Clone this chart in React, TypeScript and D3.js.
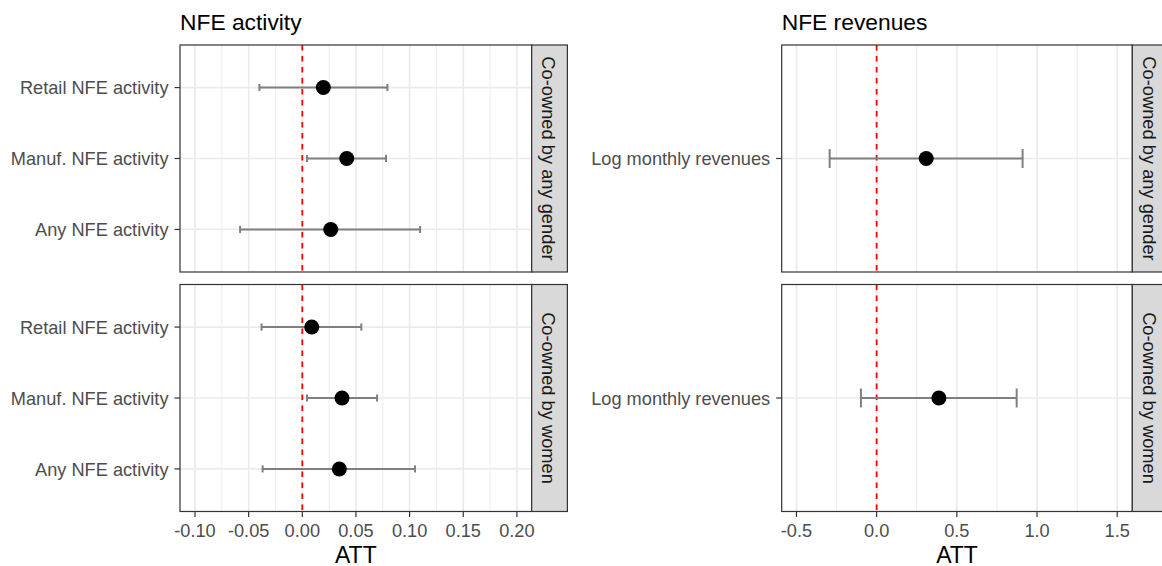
import React from "react";
import * as d3 from "d3";

// ---- Data ----
const groups = ["Co-owned by any gender", "Co-owned by women"];
// activity outcomes, listed top to bottom
const activityOutcomes = ["Retail NFE activity", "Manuf. NFE activity", "Any NFE activity"];
const activityAnyGenderEst = [0.0196, 0.0414, 0.0265];
const activityAnyGenderLo = [-0.040, 0.0044, -0.058];
const activityAnyGenderHi = [0.0793, 0.078, 0.1098];
const activityWomenEst = [0.0088, 0.037, 0.0345];
const activityWomenLo = [-0.038, 0.0044, -0.037];
const activityWomenHi = [0.055, 0.0697, 0.105];

const revenueOutcomes = ["Log monthly revenues"];
const revenueAnyGenderEst = [0.309];
const revenueAnyGenderLo = [-0.293];
const revenueAnyGenderHi = [0.910];
const revenueWomenEst = [0.388];
const revenueWomenLo = [-0.098];
const revenueWomenHi = [0.873];

const activityTicks = [-0.1, -0.05, 0, 0.05, 0.1, 0.15, 0.2];
const activityMinor = [-0.075, -0.025, 0.025, 0.075, 0.125, 0.175];
const revenueTicks = [-0.5, 0, 0.5, 1, 1.5];
const revenueMinor = [-0.25, 0.25, 0.75, 1.25];

const titles = ["NFE activity", "NFE revenues"];
const xTitle = "ATT";

// ---- Layout ----
const FONT = "'Liberation Sans', Arial, Helvetica, sans-serif";
const panelRows = [
  [45, 272],
  [284.5, 511.5],
];
const STRIP_W = 35.7;
const TICK_FS = 18.2;

type Row = { est: number[]; lo: number[]; hi: number[] };

function Column({
  x0, x1, domain, ticks, minor, fmt, outcomes, rows, title,
}: {
  x0: number; x1: number; domain: [number, number]; ticks: number[]; minor: number[];
  fmt: (v: number) => string; outcomes: string[]; rows: Row[]; title: string;
}) {
  const x = d3.scaleLinear().domain(domain).range([x0, x1]);
  const bottom = panelRows[1][1];
  return (
    <g>
      <text x={x0} y={29.5} fontSize={22.8} fill="#000" fontFamily={FONT}>{title}</text>
      {panelRows.map(([top, bot], pi) => {
        const y = d3.scalePoint<string>().domain(outcomes).range([top, bot]).padding(0.6);
        const capH = y.step() * 0.1;
        const r = rows[pi];
        return (
          <g key={pi}>
            <rect x={x0} y={top} width={x1 - x0} height={bot - top} fill="#fff" />
            {minor.map((v) => (
              <line key={"m" + v} x1={x(v)} x2={x(v)} y1={top} y2={bot} stroke="#EBEBEB" strokeWidth={0.9} />
            ))}
            {ticks.map((v) => (
              <line key={"M" + v} x1={x(v)} x2={x(v)} y1={top} y2={bot} stroke="#EBEBEB" strokeWidth={1.7} />
            ))}
            {outcomes.map((o) => (
              <line key={"y" + o} x1={x0} x2={x1} y1={y(o)!} y2={y(o)!} stroke="#EBEBEB" strokeWidth={1.7} />
            ))}
            <line x1={x(0)} x2={x(0)} y1={top} y2={bot} stroke="#FF0000" strokeWidth={1.8} strokeDasharray="5.5 5.5" />
            {outcomes.map((o, i) => {
              const yy = y(o)!;
              return (
                <g key={"e" + o}>
                  <line x1={x(r.lo[i])} x2={x(r.hi[i])} y1={yy} y2={yy} stroke="#7F7F7F" strokeWidth={2} />
                  <line x1={x(r.lo[i])} x2={x(r.lo[i])} y1={yy - capH / 2} y2={yy + capH / 2} stroke="#7F7F7F" strokeWidth={2} />
                  <line x1={x(r.hi[i])} x2={x(r.hi[i])} y1={yy - capH / 2} y2={yy + capH / 2} stroke="#7F7F7F" strokeWidth={2} />
                  <circle cx={x(r.est[i])} cy={yy} r={7.5} fill="#000" />
                </g>
              );
            })}
            <rect x={x0} y={top} width={x1 - x0} height={bot - top} fill="none" stroke="#333" strokeWidth={1.2} />
            {/* strip */}
            <rect x={x1} y={top} width={STRIP_W} height={bot - top} fill="#D9D9D9" stroke="#333" strokeWidth={1.2} />
            <text
              transform={`translate(${x1 + STRIP_W / 2 - 1},${(top + bot) / 2}) rotate(90)`}
              textAnchor="middle" dominantBaseline="central" fontSize={18.3} fill="#1A1A1A" fontFamily={FONT}
            >{groups[pi]}</text>
            {/* y axis */}
            {outcomes.map((o) => (
              <g key={"t" + o}>
                <line x1={x0 - 5.5} x2={x0} y1={y(o)!} y2={y(o)!} stroke="#333" strokeWidth={1.2} />
                <text x={x0 - 11.5} y={y(o)! + 0.8} textAnchor="end" dominantBaseline="central" fontSize={TICK_FS} fill="#4D4D4D" fontFamily={FONT}>{o}</text>
              </g>
            ))}
          </g>
        );
      })}
      {ticks.map((v) => (
        <g key={"xt" + v}>
          <line x1={x(v)} x2={x(v)} y1={bottom} y2={bottom + 5.5} stroke="#333" strokeWidth={1.2} />
          <text x={x(v)} y={536.8} textAnchor="middle" fontSize={TICK_FS} fill="#4D4D4D" fontFamily={FONT}>{fmt(v)}</text>
        </g>
      ))}
      <text x={(x0 + x1) / 2} y={563} textAnchor="middle" fontSize={23} fill="#000" fontFamily={FONT}>{xTitle}</text>
    </g>
  );
}

export default function App() {
  const f2 = (v: number) => d3.format(".2f")(v).replace("−", "-");
  const f1 = (v: number) => d3.format(".1f")(v).replace("−", "-");
  return (
    <svg width={1162} height={566} style={{ position: "absolute", left: 0, top: 0, background: "#fff" }}>
      <rect width={1162} height={566} fill="#fff" />
      <Column
        x0={180} x1={531.7} domain={[-0.114, 0.2138]} ticks={activityTicks} minor={activityMinor}
        fmt={f2} outcomes={activityOutcomes} title={titles[0]}
        rows={[
          { est: activityAnyGenderEst, lo: activityAnyGenderLo, hi: activityAnyGenderHi },
          { est: activityWomenEst, lo: activityWomenLo, hi: activityWomenHi },
        ]}
      />
      <Column
        x0={781.7} x1={1132.3} domain={[-0.592, 1.594]} ticks={revenueTicks} minor={revenueMinor}
        fmt={f1} outcomes={revenueOutcomes} title={titles[1]}
        rows={[
          { est: revenueAnyGenderEst, lo: revenueAnyGenderLo, hi: revenueAnyGenderHi },
          { est: revenueWomenEst, lo: revenueWomenLo, hi: revenueWomenHi },
        ]}
      />
    </svg>
  );
}
